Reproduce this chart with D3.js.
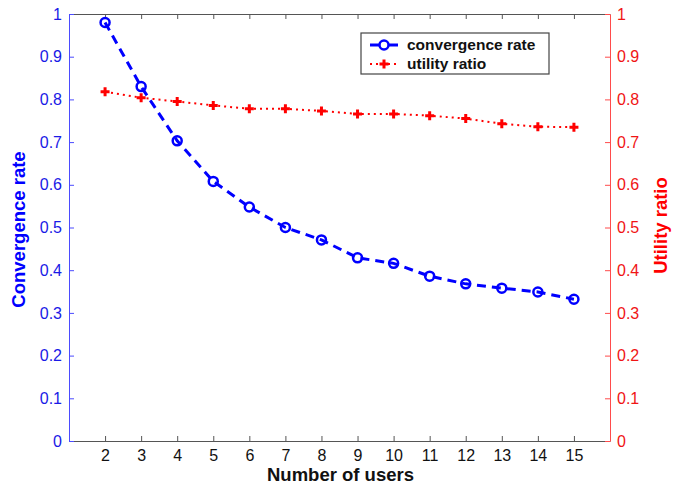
<!DOCTYPE html>
<html>
<head>
<meta charset="utf-8">
<script src="https://cdn.jsdelivr.net/npm/d3@7"></script>
<style>
  body { margin: 0; background: #fff; }
  text { font-family: Arial, "Liberation Sans", sans-serif; }
</style>
</head>
<body>
<div id="chart"></div>
<script>
// data
const users = [2, 3, 4, 5, 6, 7, 8, 9, 10, 11, 12, 13, 14, 15]
const convergenceRate = [0.980, 0.830, 0.703, 0.608, 0.548, 0.500, 0.471, 0.429, 0.416, 0.386, 0.368, 0.358, 0.349, 0.332]
const utilityRatio = [0.818, 0.804, 0.795, 0.786, 0.778, 0.778, 0.773, 0.766, 0.766, 0.762, 0.755, 0.743, 0.736, 0.735]
const yTicks = [0, 0.1, 0.2, 0.3, 0.4, 0.5, 0.6, 0.7, 0.8, 0.9, 1]

const W = 676, H = 484
const m = {left: 69, right: 66, top: 14, bottom: 43}
const blue = '#0000ff', red = '#ff0000'

let svg = d3.select('#chart').append('svg')
    .attr('width', W)
    .attr('height', H)

let xScale = d3.scaleLinear().domain([1, 16]).range([m.left, W - m.right])
let yScale = d3.scaleLinear().domain([0, 1]).range([H - m.bottom, m.top])

// bottom + top box lines
let xAxisBottom = d3.axisBottom(xScale).tickValues(users).tickSizeInner(-5).tickSizeOuter(0).tickPadding(9)
let gx = svg.append('g').attr('transform', `translate(0,${H - m.bottom})`).call(xAxisBottom)
gx.selectAll('path, line').attr('stroke', '#555')
gx.selectAll('text').attr('font-size', 16).attr('fill', '#111')

let xAxisTop = d3.axisTop(xScale).tickValues(users).tickSizeInner(-5).tickSizeOuter(0).tickFormat('')
let gt = svg.append('g').attr('transform', `translate(0,${m.top})`).call(xAxisTop)
gt.selectAll('path, line').attr('stroke', '#555')

// left axis (blue)
let yLeft = d3.axisLeft(yScale).tickValues(yTicks).tickSizeInner(-5).tickSizeOuter(0).tickPadding(7).tickFormat(d3.format('~g'))
let gl = svg.append('g').attr('transform', `translate(${m.left},0)`).call(yLeft)
gl.selectAll('path, line').attr('stroke', '#4b4bff')
gl.selectAll('text').attr('font-size', 16).attr('fill', '#1a1ae6')

// right axis (red)
let yRight = d3.axisRight(yScale).tickValues(yTicks).tickSizeInner(-5).tickSizeOuter(0).tickPadding(7).tickFormat(d3.format('~g'))
let gr = svg.append('g').attr('transform', `translate(${W - m.right},0)`).call(yRight)
gr.selectAll('path, line').attr('stroke', '#ff4b4b')
gr.selectAll('text').attr('font-size', 16).attr('fill', '#f01515')

// axis titles
svg.append('text')
    .attr('x', (m.left + W - m.right) / 2 + 1)
    .attr('y', 481)
    .attr('text-anchor', 'middle')
    .attr('font-size', 18.5)
    .attr('font-weight', 'bold')
    .attr('fill', '#111')
    .text('Number of users')

svg.append('text')
    .attr('transform', `translate(25,${(m.top + H - m.bottom) / 2 + 2}) rotate(-90)`)
    .attr('text-anchor', 'middle')
    .attr('font-size', 18.5)
    .attr('font-weight', 'bold')
    .attr('fill', blue)
    .text('Convergence rate')

svg.append('text')
    .attr('transform', `translate(667,${(m.top + H - m.bottom) / 2 - 2}) rotate(-90)`)
    .attr('text-anchor', 'middle')
    .attr('font-size', 18.5)
    .attr('font-weight', 'bold')
    .attr('fill', red)
    .text('Utility ratio')

// series
let convData = users.map((u, i) => ({x: u, y: convergenceRate[i]}))
let utilData = users.map((u, i) => ({x: u, y: utilityRatio[i]}))

let line = d3.line()
    .x(d => xScale(d.x))
    .y(d => yScale(d.y))

svg.append('path')
    .attr('d', line(utilData))
    .attr('fill', 'none')
    .attr('stroke', red)
    .attr('stroke-width', 2)
    .attr('stroke-dasharray', '2,4')

svg.append('path')
    .attr('d', line(convData))
    .attr('fill', 'none')
    .attr('stroke', blue)
    .attr('stroke-width', 3)
    .attr('stroke-dasharray', '9,6')

svg.selectAll('.plus')
    .data(utilData)
    .enter()
    .append('path')
    .attr('class', 'plus')
    .attr('d', d => {
        let cx = xScale(d.x), cy = yScale(d.y), s = 4.5
        return `M${cx - s},${cy}H${cx + s}M${cx},${cy - s}V${cy + s}`
    })
    .attr('stroke', red)
    .attr('stroke-width', 3)

svg.selectAll('.circ')
    .data(convData)
    .enter()
    .append('circle')
    .attr('class', 'circ')
    .attr('cx', d => xScale(d.x))
    .attr('cy', d => yScale(d.y))
    .attr('r', 4.5)
    .attr('fill', 'none')
    .attr('stroke', blue)
    .attr('stroke-width', 2.5)

// legend
let lg = svg.append('g').attr('transform', 'translate(361,33)')
lg.append('rect')
    .attr('width', 188).attr('height', 41)
    .attr('fill', '#fff').attr('stroke', '#444').attr('stroke-width', 1.2)

lg.append('line').attr('x1', 9).attr('x2', 37).attr('y1', 12).attr('y2', 12)
    .attr('stroke', blue).attr('stroke-width', 3)
lg.append('circle').attr('cx', 23).attr('cy', 12).attr('r', 4.5)
    .attr('fill', '#fff').attr('stroke', blue).attr('stroke-width', 2.5)
lg.append('line').attr('x1', 9).attr('x2', 37).attr('y1', 31).attr('y2', 31)
    .attr('stroke', red).attr('stroke-width', 2).attr('stroke-dasharray', '2,4')
lg.append('path').attr('d', 'M18.5,31H27.5M23,26.5V35.5')
    .attr('stroke', red).attr('stroke-width', 3)

lg.append('text').attr('x', 46).attr('y', 17).attr('font-size', 15.5).attr('font-weight', 'bold')
    .attr('fill', '#111').text('convergence rate')
lg.append('text').attr('x', 46).attr('y', 36).attr('font-size', 15.5).attr('font-weight', 'bold')
    .attr('fill', '#111').text('utility ratio')
</script>
</body>
</html>
